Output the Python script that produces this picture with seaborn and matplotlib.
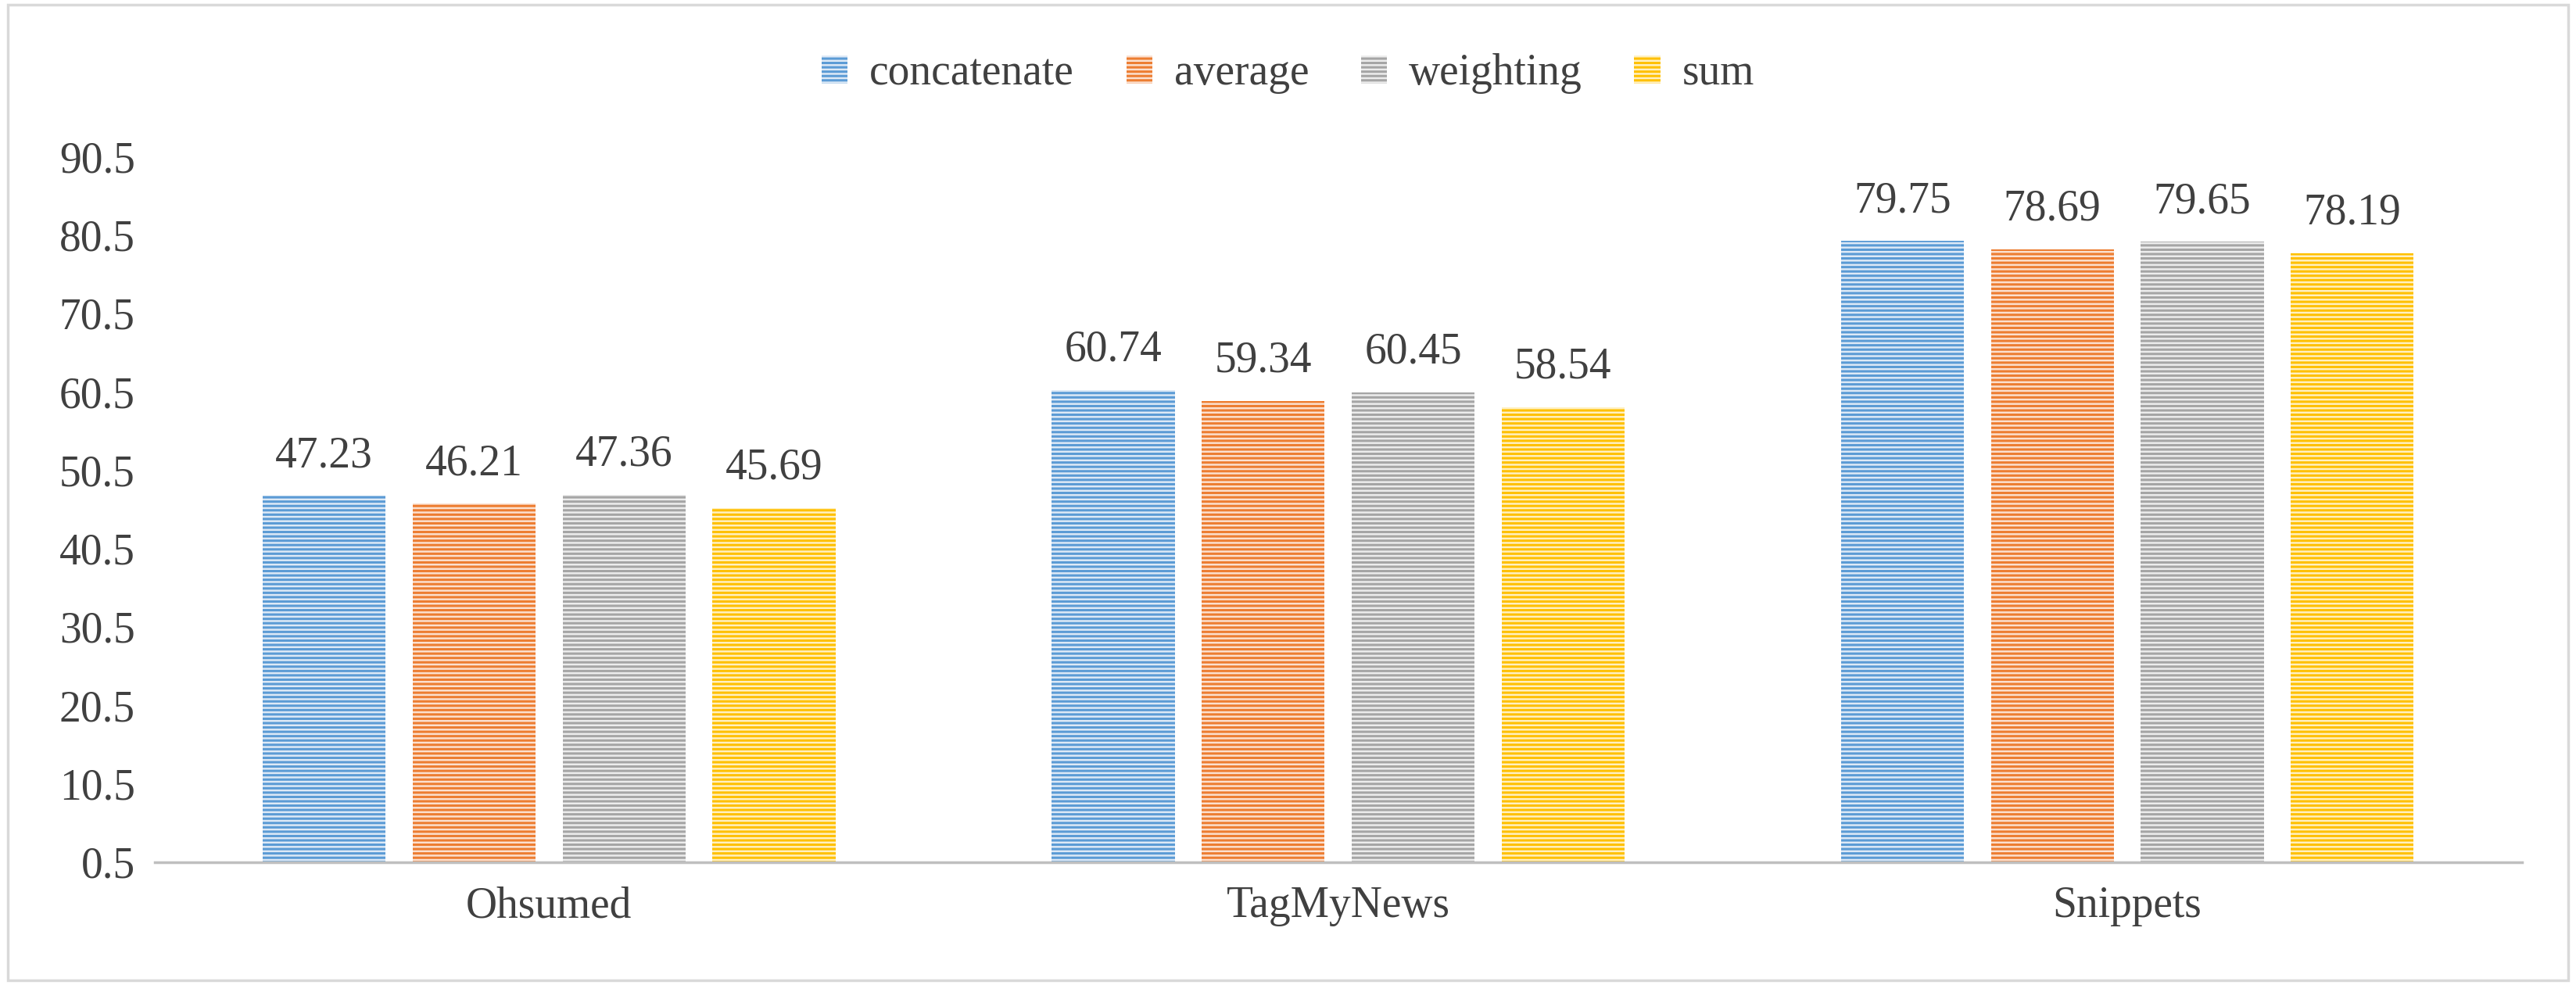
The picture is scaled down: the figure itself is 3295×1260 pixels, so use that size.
import matplotlib
matplotlib.use("Agg")
import matplotlib.pyplot as plt
import seaborn as sns
import pandas as pd
from matplotlib.patches import Rectangle

datasets = ["Ohsumed", "TagMyNews", "Snippets"]
methods = ["concatenate", "average", "weighting", "sum"]
concatenate = [47.23, 60.74, 79.75]
average = [46.21, 59.34, 78.69]
weighting = [47.36, 60.45, 79.65]
sum_vals = [45.69, 58.54, 78.19]
yticks = [0.5, 10.5, 20.5, 30.5, 40.5, 50.5, 60.5, 70.5, 80.5, 90.5]

colors = ["#5B9BD5", "#ED7D31", "#A5A5A5", "#FFC000"]
light = ["#dde9f6", "#fbe0cf", "#ececec", "#fff0c2"]

rows = []
for m, vals in zip(methods, [concatenate, average, weighting, sum_vals]):
    for d, v in zip(datasets, vals):
        rows.append({"dataset": d, "method": m, "value": v})
df = pd.DataFrame(rows)

sns.set_style("white")
plt.rcParams['font.family'] = ['Liberation Serif', 'DejaVu Serif']
plt.rcParams['hatch.linewidth'] = 2.2

fig = plt.figure(figsize=(32.95, 12.6), dpi=100)
ax = fig.add_axes([0.06, 0.125, 0.919, 0.716])
sns.barplot(data=df, x="dataset", y="value", hue="method", hue_order=methods,
            palette=colors, width=0.76, gap=0.18, ax=ax, legend=False)

for i, cont in enumerate(ax.containers):
    for p in cont:
        p.set_facecolor(light[i])
        p.set_edgecolor(colors[i])
        p.set_linewidth(0)
        p.set_hatch('---')
        if hasattr(p, "set_hatchcolor"):
            p.set_hatchcolor(colors[i])
    ax.bar_label(cont, fmt="%.2f", padding=18, fontsize=40, color="#404040")

ax.set_ylim(0.5, 90.5)
ax.set_yticks(yticks)
ax.set_yticklabels([f"{t:.1f}" for t in yticks])
ax.tick_params(axis='both', labelsize=40, colors="#404040", length=0)
ax.tick_params(axis='x', pad=22)
ax.tick_params(axis='y', pad=18)
ax.set_xlabel("")
ax.set_ylabel("")
for s in ["top", "right", "left"]:
    ax.spines[s].set_visible(False)
ax.spines["bottom"].set_color("#bfbfbf")
ax.spines["bottom"].set_linewidth(2.5)

handles = []
for i in range(4):
    h = Rectangle((0, 0), 1, 1, facecolor=light[i], edgecolor=colors[i], linewidth=0, hatch='---')
    if hasattr(h, "set_hatchcolor"):
        h.set_hatchcolor(colors[i])
    handles.append(h)
fig.legend(handles, methods, loc="center", bbox_to_anchor=(0.5, 0.925), ncol=4,
           frameon=False, fontsize=40, handlelength=0.6, handleheight=0.6,
           handletextpad=0.5, columnspacing=1.2, labelcolor="#404040")

fig.patches.append(Rectangle((0.003, 0.005), 0.994, 0.99, transform=fig.transFigure,
                             fill=False, edgecolor="#d9d9d9", linewidth=2.5))
fig.savefig("out.png", dpi=100)
